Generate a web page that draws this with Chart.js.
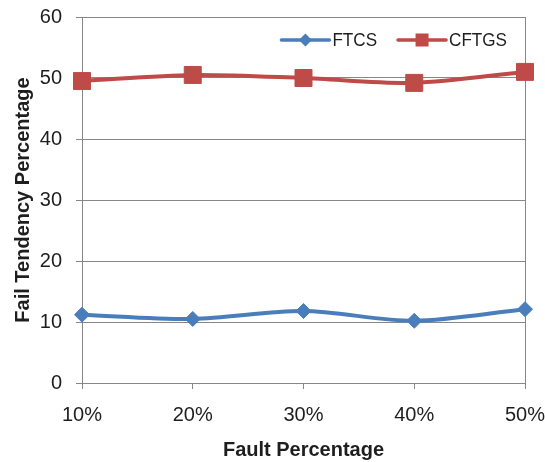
<!DOCTYPE html>
<html>
<head>
<meta charset="utf-8">
<script src="https://cdn.jsdelivr.net/npm/chart.js@4/dist/chart.umd.min.js"></script>
<style>
html,body{margin:0;padding:0;background:#fff;}
#wrap{width:545px;height:462px;}
</style>
</head>
<body>
<div id="wrap"><canvas id="c" width="545" height="462"></canvas></div>
<script>
const categories = ["10%", "20%", "30%", "40%", "50%"];
const ftcs = [11.2, 10.5, 11.8, 10.2, 12.1];
const cftgs = [49.5, 50.5, 50.0, 49.2, 51.0];
const yTicks = [0, 10, 20, 30, 40, 50, 60];

const FONT = "'Liberation Sans', Arial, sans-serif";
const GRID = '#878787';
const TEXT = '#1e1e1e';

const legendPlugin = {
  id: 'insideLegend',
  afterDatasetsDraw(chart) {
    const ctx = chart.ctx;
    const ca = chart.chartArea;
    const ds = chart.data.datasets;
    const sx = 0.9;
    ctx.save();
    ctx.font = "19px " + FONT;
    const lineLen = 48, gapText = 3, gapItem = 21;
    const widths = ds.map(d => ctx.measureText(d.label).width * sx);
    let total = 0;
    ds.forEach((d, i) => { total += lineLen + gapText + widths[i]; if (i < ds.length - 1) total += gapItem; });
    let x = ca.right - 18 - total;
    const y = 40;
    ds.forEach((d, i) => {
      ctx.strokeStyle = d.borderColor;
      ctx.lineWidth = 3.5;
      ctx.lineCap = 'round';
      ctx.beginPath();
      ctx.moveTo(x, y);
      ctx.lineTo(x + lineLen, y);
      ctx.stroke();
      ctx.fillStyle = d.pointBackgroundColor;
      ctx.beginPath();
      const cx = x + lineLen / 2;
      if (d.pointStyle === 'rect') {
        const s = 6.5;
        ctx.rect(cx - s, y - s, 2 * s, 2 * s);
      } else {
        const r = 6.5;
        ctx.moveTo(cx, y - r); ctx.lineTo(cx + r, y); ctx.lineTo(cx, y + r); ctx.lineTo(cx - r, y); ctx.closePath();
      }
      ctx.fill();
      ctx.fillStyle = TEXT;
      ctx.textBaseline = 'middle';
      ctx.textAlign = 'left';
      ctx.save();
      ctx.translate(x + lineLen + gapText, y + 1);
      ctx.scale(sx, 1);
      ctx.fillText(d.label, 0, 0);
      ctx.restore();
      x += lineLen + gapText + widths[i] + gapItem;
    });
    ctx.restore();
  }
};

new Chart(document.getElementById('c'), {
  type: 'line',
  data: {
    labels: categories,
    datasets: [
      {
        label: 'FTCS', data: ftcs,
        borderColor: '#4A7EBB', backgroundColor: '#4A7EBB',
        borderWidth: 4, tension: 0.3,
        pointStyle: 'rectRot', pointRadius: 7.5, pointHoverRadius: 7.5,
        pointBackgroundColor: '#4A7EBB', pointBorderColor: '#4A7EBB', pointBorderWidth: 1
      },
      {
        label: 'CFTGS', data: cftgs,
        borderColor: '#BE4B48', backgroundColor: '#BE4B48',
        borderWidth: 4, tension: 0.3,
        pointStyle: 'rect', pointRadius: 12, pointHoverRadius: 12,
        pointBackgroundColor: '#BE4B48', pointBorderColor: '#BE4B48', pointBorderWidth: 1
      }
    ]
  },
  options: {
    responsive: false,
    animation: false,
    devicePixelRatio: 1,
    layout: { padding: { top: 17, right: 20, left: 0, bottom: 0 } },
    plugins: { legend: { display: false }, tooltip: { enabled: false } },
    scales: {
      x: {
        offset: false,
        afterFit(s) { s.height = 79; s.paddingLeft = 0; s.paddingRight = 0; },
        grid: {
          color: (c) => (c.index === categories.length - 1 ? GRID : 'rgba(0,0,0,0)'),
          tickColor: GRID, tickLength: 6, lineWidth: 1
        },
        border: { color: GRID, width: 1 },
        ticks: { color: TEXT, font: { family: FONT, size: 20 }, padding: 14, maxRotation: 0, autoSkip: false },
        title: { display: true, text: 'Fault Percentage', color: TEXT, font: { family: FONT, size: 20, weight: 'bold' }, padding: { top: 0, bottom: 0 } }
      },
      y: {
        min: yTicks[0], max: yTicks[yTicks.length - 1],
        afterFit(s) { s.width = 82; s.paddingTop = 0; s.paddingBottom = 0; },
        afterBuildTicks(s) { s.ticks = yTicks.map(v => ({ value: v })); },
        grid: { color: GRID, tickColor: GRID, tickLength: 6, lineWidth: 1 },
        border: { color: GRID, width: 1 },
        ticks: { color: TEXT, font: { family: FONT, size: 20 }, padding: 14 },
        title: { display: true, text: 'Fail Tendency Percentage', color: TEXT, font: { family: FONT, size: 20, weight: 'bold' }, padding: { top: 11, bottom: 0 } }
      }
    }
  },
  plugins: [legendPlugin]
});
</script>
</body>
</html>
